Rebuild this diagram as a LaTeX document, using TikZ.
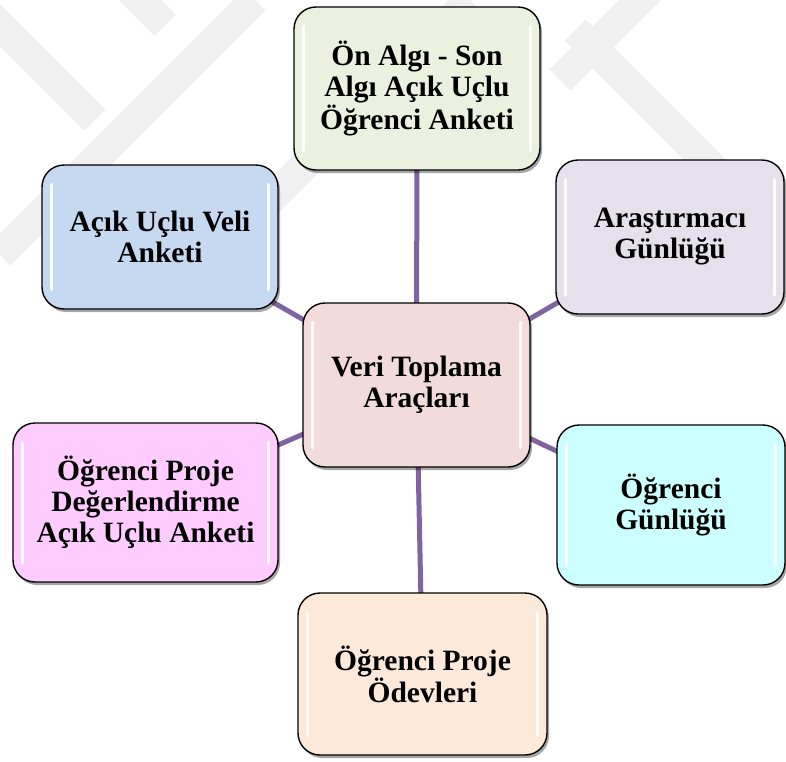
\documentclass[tikz,border=0pt]{standalone}
\usepackage{fontspec}
\setmainfont{Liberation Serif}
\usetikzlibrary{shadows,backgrounds,calc}
\definecolor{spokec}{HTML}{8064A2}
\definecolor{ctop}{HTML}{EBF1DE}
\definecolor{ccen}{HTML}{F2DCDB}
\definecolor{clt}{HTML}{C6D9F1}
\definecolor{crt}{HTML}{E5E0EC}
\definecolor{clb}{HTML}{FFCCFF}
\definecolor{crb}{HTML}{CCFFFF}
\definecolor{cbot}{HTML}{FDE9D9}
\newcommand\glossbox[1]{%
  \draw[hl] ($(#1.north west)+(10,20)$) -- ($(#1.south west)+(10,-20)$);
  \draw[hl] ($(#1.north east)+(-10,20)$) -- ($(#1.south east)+(-10,-20)$);}
\begin{document}
\begin{tikzpicture}[x=1pt,y=-1pt,
  box/.style={draw=black, line width=1.4pt, rounded corners=22pt, align=center,
    font=\bfseries\fontsize{29.5}{31}\selectfont, inner sep=0pt,
    drop shadow={shadow xshift=2pt, shadow yshift=-3pt, opacity=0.35, fill=black}},
  spoke/.style={draw=spokec, line width=5pt},
  hl/.style={draw=white, line width=3.5pt, line cap=round, opacity=0.9},
  wm/.style={draw=black!6, line width=30pt}]
\useasboundingbox (0,0) rectangle (786,761);

\node[box, fill=ctop, minimum width=246pt, minimum height=163pt] (top) at (417,88.5)
  {Ön Algı - Son\\Algı Açık Uçlu\\Öğrenci Anketi};
\node[box, fill=ccen, minimum width=227pt, minimum height=164pt] (cen) at (416.5,385)
  {Veri Toplama\\Araçları};
\node[box, fill=clt, minimum width=236pt, minimum height=144pt] (lt) at (160,237)
  {Açık Uçlu Veli\\Anketi};
\node[box, fill=crt, minimum width=228pt, minimum height=154pt] (rt) at (670,237)
  {Araştırmacı\\Günlüğü};
\node[box, fill=clb, minimum width=265pt, minimum height=159pt] (lb) at (145.5,502.5)
  {Öğrenci Proje\\Değerlendirme\\Açık Uçlu Anketi};
\node[box, fill=crb, minimum width=228pt, minimum height=160pt] (rb) at (671,505)
  {Öğrenci\\Günlüğü};
\node[box, fill=cbot, minimum width=249pt, minimum height=162pt] (bot) at (422.5,674)
  {Öğrenci Proje\\Ödevleri};

\glossbox{top}\glossbox{cen}\glossbox{lt}\glossbox{rt}\glossbox{lb}\glossbox{rb}\glossbox{bot}

\begin{scope}[on background layer]
  \fill[white] (0,0) rectangle (786,761);
  \begin{scope}
    \clip (0,0) rectangle (786,761);
    \draw[wm] (-20,5) -- (95,120);
    \draw[wm] (0,255) -- (255,0);
    \draw[wm] (200,270) -- (470,0);
    \draw[wm] (130,-10) -- (165,25);
    \draw[wm] (575,30) -- (720,175);
    \draw[wm] (650,-10) -- (560,80);
  \end{scope}
  \draw[spoke] (cen.center) -- (top.center);
  \draw[spoke] (cen.center) -- (lt.center);
  \draw[spoke] (cen.center) -- (rt.center);
  \draw[spoke] (cen.center) -- (lb.center);
  \draw[spoke] (cen.center) -- (rb.center);
  \draw[spoke] (cen.center) -- (bot.center);
\end{scope}
\end{tikzpicture}
\end{document}
